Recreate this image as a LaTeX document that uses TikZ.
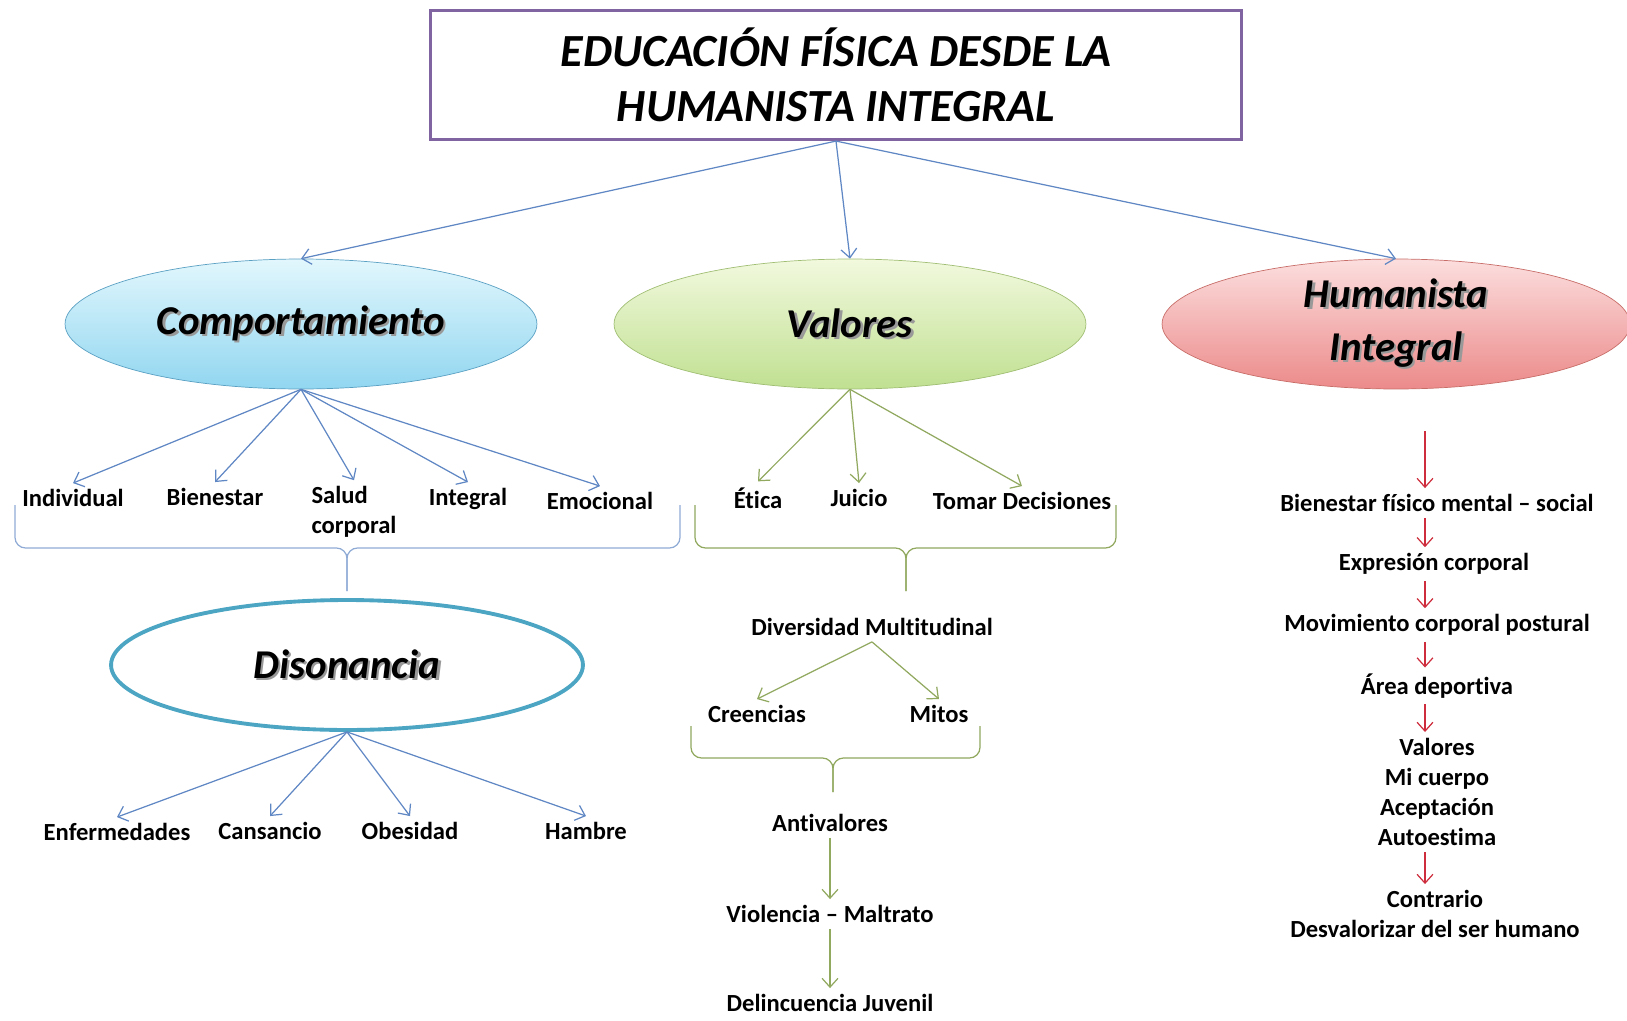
\documentclass[tikz,border=0pt]{standalone}
\usepackage{fontspec}
\setmainfont{Carlito}[Ligatures={TeX,NoCommon}]
\usepackage{tikz}
\usetikzlibrary{shapes.geometric, arrows.meta}
\definecolor{titleborder}{RGB}{128,100,162}
\definecolor{bluearrow}{RGB}{95,135,195}
\definecolor{greenarrow}{RGB}{145,168,95}
\definecolor{redarrow}{RGB}{205,45,60}
\definecolor{compTop}{RGB}{226,247,253}
\definecolor{compBot}{RGB}{145,214,240}
\definecolor{compLine}{RGB}{90,160,195}
\definecolor{valTop}{RGB}{242,249,222}
\definecolor{valBot}{RGB}{192,224,145}
\definecolor{valLine}{RGB}{160,190,115}
\definecolor{humTop}{RGB}{252,222,222}
\definecolor{humBot}{RGB}{236,138,138}
\definecolor{humLine}{RGB}{200,110,105}
\definecolor{disLine}{RGB}{75,165,195}
\tikzstyle{barrow} = [draw=bluearrow, line width=0.7pt, -{Straight Barb[length=5pt,width=9pt]}]
\tikzstyle{garrow} = [draw=greenarrow, line width=0.7pt, -{Straight Barb[length=5pt,width=9pt]}]
\tikzstyle{rarrow} = [draw=redarrow, line width=0.7pt, -{Straight Barb[length=5pt,width=9pt]}]
\newcommand{\shadowed}[1]{\rlap{\kern1.3pt\raisebox{-1.3pt}{\textcolor{black!40}{#1}}}#1}

\begin{document}
\begin{tikzpicture}[x=0.02cm, y=-0.02cm,
    bigoval/.style={ellipse, minimum width=9.44cm, minimum height=2.6cm, inner sep=0pt, align=center,
        font=\fontsize{23.3}{29}\selectfont\bfseries\itshape},
    lbl/.style={align=center, font=\fontsize{14}{17.1}\selectfont\bfseries},
    brace/.style={line width=0.7pt, rounded corners=6pt}]
\useasboundingbox (0,0) rectangle (1627,1021);

\node[draw=titleborder, line width=1.8pt, minimum width=16.22cm, minimum height=2.58cm, align=center,
    font=\fontsize{26.2}{31.3}\selectfont\bfseries\itshape] (title) at (836,75)
    {EDUCACIÓN FÍSICA DESDE LA\\HUMANISTA INTEGRAL};

\node[bigoval, draw=compLine, top color=compTop, bottom color=compBot] (comp) at (301,324) {\shadowed{Comportamiento}};
\node[bigoval, draw=valLine, top color=valTop, bottom color=valBot] (val) at (850,324) {\shadowed{Valores}};
\node[bigoval, draw=humLine, top color=humTop, bottom color=humBot, minimum width=9.36cm] (hum) at (1396,324)
    {\shadowed{Humanista}\\[1pt]\shadowed{Integral}};

\draw[barrow] (title.south) -- (comp.north);
\draw[barrow] (title.south) -- (val.north);
\draw[barrow] (title.south) -- (hum.north);

\node[lbl] (ind) at (73,498) {Individual};
\node[lbl] (bien) at (215,497) {Bienestar};
\node[lbl, align=left] (salud) at (354,512) {Salud\\corporal};
\node[lbl] (integ) at (468,499) {Integral};
\node[lbl] (emoc) at (600,501) {Emocional};
\foreach \n in {ind,bien,salud,integ,emoc}
    \draw[barrow] (comp.south) -- (\n.north);

\draw[brace, draw=bluearrow!70] (15,505) -- (15,548) -- (347,548) -- (347,591);
\draw[brace, draw=bluearrow!70] (680,505) -- (680,548) -- (347,548) -- (347,591);

\node[bigoval, draw=disLine, line width=2.2pt, fill=white] (dis) at (347,665) {\shadowed{Disonancia}};

\node[lbl] (enf) at (117,832) {Enfermedades};
\node[lbl] (cans) at (270,831) {Cansancio};
\node[lbl] (obes) at (410,831) {Obesidad};
\node[lbl] (hamb) at (586,831) {Hambre};
\foreach \n in {enf,cans,obes,hamb}
    \draw[barrow] (dis.south) -- (\n.north);

\node[lbl] (etica) at (758,498) {Ética};
\node[lbl] (juicio) at (859,498) {Juicio};
\node[lbl] (tomar) at (1022,501) {Tomar Decisiones};
\foreach \n in {etica,juicio,tomar}
    \draw[garrow] (val.south) -- (\n.north);

\draw[brace, draw=greenarrow] (695,505) -- (695,548) -- (906,548) -- (906,591);
\draw[brace, draw=greenarrow] (1116,505) -- (1116,548) -- (906,548) -- (906,591);

\node[lbl] (divers) at (872,627) {Diversidad Multitudinal};
\node[lbl] (creen) at (757,714) {Creencias};
\node[lbl] (mitos) at (939,714) {Mitos};
\draw[garrow] (divers.south) -- (creen.north);
\draw[garrow] (divers.south) -- (mitos.north);

\draw[brace, draw=greenarrow] (691,726) -- (691,758) -- (833,758) -- (833,792);
\draw[brace, draw=greenarrow] (980,726) -- (980,758) -- (833,758) -- (833,792);

\node[lbl] (antiv) at (830,823) {Antivalores};
\node[lbl] (viol) at (830,914) {Violencia -- Maltrato};
\node[lbl] (delin) at (830,1003) {Delincuencia Juvenil};
\draw[garrow] (antiv.south) -- (viol.north);
\draw[garrow] (viol.south) -- (delin.north);

\coordinate (hx) at (1425,431);
\node[lbl] (bfm) at (1437,503) {Bienestar físico mental -- social};
\node[lbl] (expr) at (1434,564) {Expresión corporal};
\node[lbl] (movi) at (1437,625) {Movimiento corporal postural};
\node[lbl] (area) at (1437,686) {Área deportiva};
\node[lbl] (valo) at (1437,792) {Valores\\Mi cuerpo\\Aceptación\\Autoestima};
\node[lbl] (contr) at (1435,914) {Contrario\\Desvalorizar del ser humano};
\draw[rarrow] (hx) -- (bfm.north -| hx);
\foreach \a/\b in {bfm/expr, expr/movi, movi/area, area/valo, valo/contr}
    \draw[rarrow] (\a.south -| hx) -- (\b.north -| hx);
\end{tikzpicture}
\end{document}
